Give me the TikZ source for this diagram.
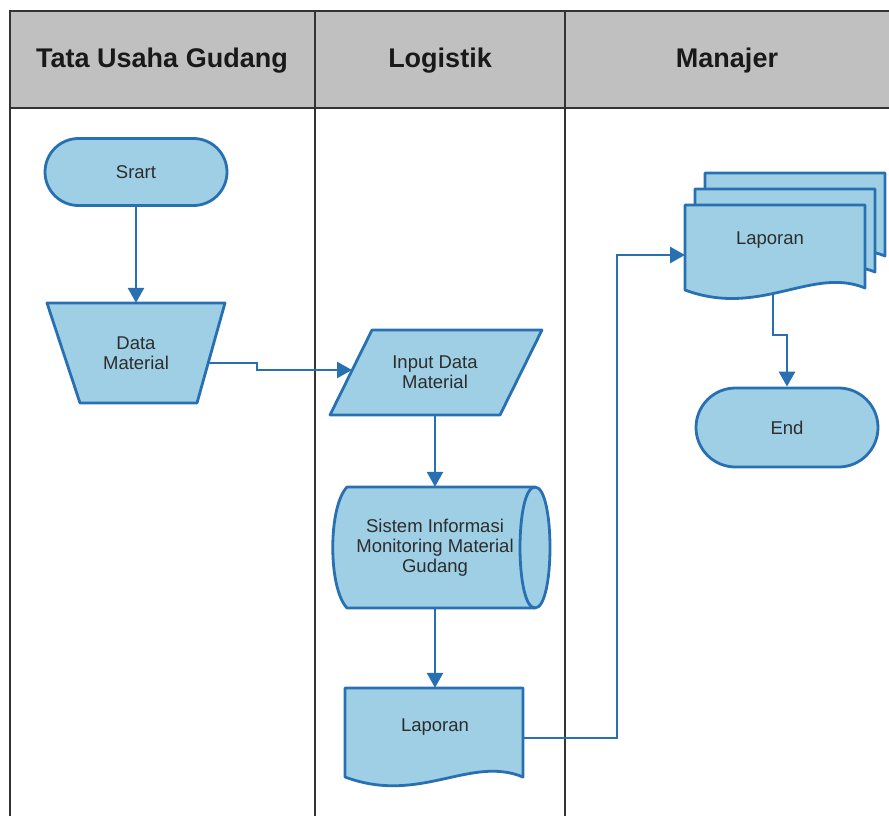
\documentclass[tikz,border=0pt]{standalone}
\usepackage{fontspec}
\setmainfont{Liberation Sans}
\usetikzlibrary{arrows.meta,shapes.misc}
\definecolor{boxfill}{RGB}{158,207,228}
\definecolor{boxline}{RGB}{40,112,178}
\definecolor{hdrgray}{RGB}{192,192,192}
\definecolor{txt}{RGB}{45,45,45}
\begin{document}
\begin{tikzpicture}[x=1pt,y=-1pt,
  lbl/.style={font=\fontsize{18.5}{20}\selectfont, text=txt, align=center, inner sep=0pt},
  hdr/.style={font=\fontsize{27}{30}\selectfont\bfseries, text=black!90},
  shp/.style={draw=boxline, fill=boxfill, line width=2.8pt, line join=round},
  flow/.style={draw=boxline, line width=2.8pt, -{Triangle[length=15pt,width=16pt]}},
  tbl/.style={draw=black!80, line width=2pt}]
\useasboundingbox (0,0) rectangle (889,816);
% table
\fill[hdrgray] (10,11) rectangle (889,108);
\draw[tbl] (889,11) -- (10,11) -- (10,816);
\draw[tbl] (10,108) -- (889,108);
\draw[tbl] (315,11) -- (315,816);
\draw[tbl] (565,11) -- (565,816);
\node[hdr] (h1) at (162,61) {Tata Usaha Gudang};
\node[hdr] (h2) at (440,61) {Logistik};
\node[hdr] (h3) at (727,61) {Manajer};
% shapes
\node[rounded rectangle, shp, minimum width=182pt, minimum height=67pt, lbl] (start) at (136,172) {Srart};
\draw[shp] (47,303) -- (225,303) -- (197,403) -- (80,403) -- cycle;
\node[lbl, minimum width=178pt, minimum height=100pt] (data) at (136,353) {Data\\Material};
\draw[shp] (372,330) -- (542,330) -- (500,415) -- (330,415) -- cycle;
\node[lbl, minimum width=170pt, minimum height=85pt] (input) at (435,372.5) {Input Data\\Material};
\draw[shp] (347,487) -- (535,487) .. controls (555,487) and (555,608) .. (535,608) -- (347,608) .. controls (328,588) and (328,507) .. (347,487) -- cycle;
\draw[shp, fill=none] (535,487) .. controls (515,487) and (515,608) .. (535,608);
\node[lbl, minimum width=180pt, minimum height=121pt] (sis) at (435,547.5) {Sistem Informasi\\Monitoring Material\\Gudang};
\draw[shp] (345,688) -- (523,688) -- (523,777) .. controls (470,755) and (420,805) .. (345,777) -- cycle;
\node[lbl, minimum width=170pt, minimum height=78pt] (rep1) at (435,727) {Laporan};
\draw[shp] (705,173) -- (885,173) -- (885,256) .. controls (832,234) and (780,286) .. (705,258) -- cycle;
\draw[shp] (695,189) -- (875,189) -- (875,272) .. controls (822,250) and (770,302) .. (695,274) -- cycle;
\draw[shp] (685,205) -- (865,205) -- (865,288) .. controls (812,266) and (760,318) .. (685,290) -- cycle;
\node[lbl] (multi) at (770,240) {Laporan};
\node[rounded rectangle, shp, minimum width=182pt, minimum height=79pt, lbl] (end) at (787,427.5) {End};
% connector points
\coordinate (dR) at (208,363);
\coordinate (inL) at (352,370);
\coordinate (r1R) at (523,738);
\coordinate (mL) at (685,255);
\coordinate (mB) at (773,293);
% connectors
\draw[flow] (start.south) -- (data.north);
\draw[flow] (dR) -- (257,363) -- (257,370) -- (inL);
\draw[flow] (input.south) -- (sis.north);
\draw[flow] (sis.south) -- (rep1.north);
\draw[flow] (r1R) -- (617,738) -- (617,255) -- (mL);
\draw[flow] (mB) -- (773,335) -- (787,335) -- (end.north);
\end{tikzpicture}
\end{document}
